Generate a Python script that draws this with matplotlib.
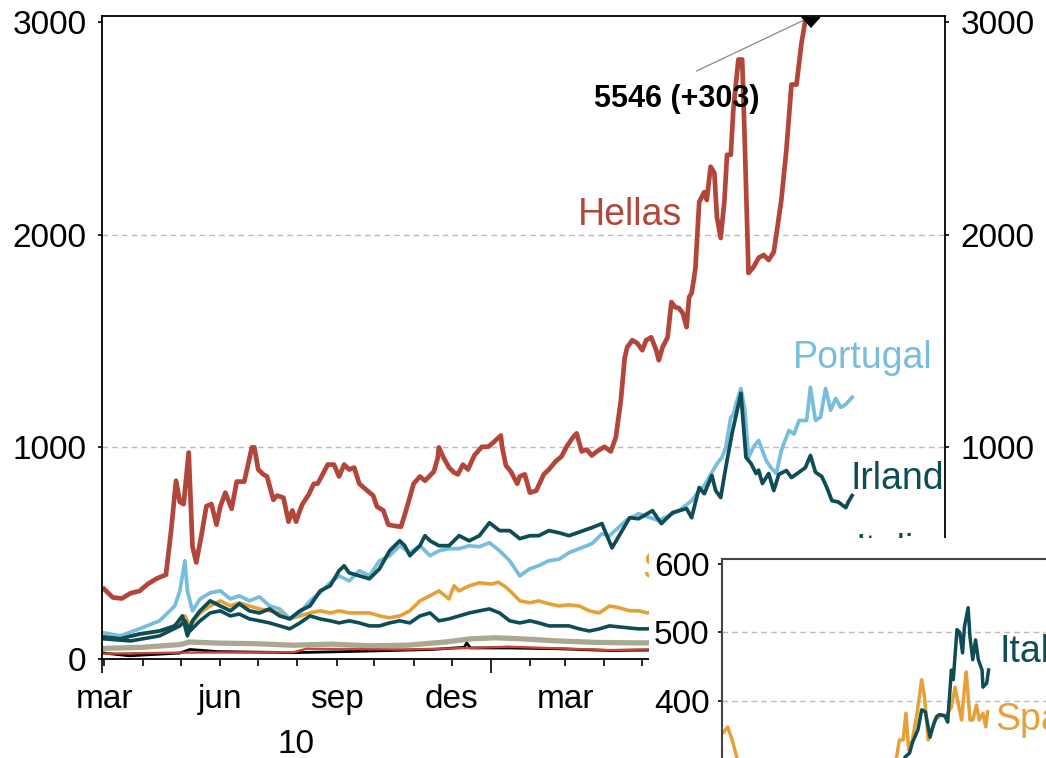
import matplotlib
matplotlib.use('Agg')
import matplotlib.pyplot as plt
import matplotlib.dates as mdates
from matplotlib.patches import Rectangle
from matplotlib.ticker import FixedLocator, FuncFormatter, NullFormatter, MultipleLocator
import pandas as pd

plt.rcParams['font.family'] = ['Liberation Sans', 'DejaVu Sans']

# 5-year CDS premiums (basis points); days counted from 1 March 2010
start = pd.Timestamp('2010-03-01')

hellas = [(0, 330), (7, 290), (14, 285), (21, 310), (28, 320), (35, 355), (42, 380), (49, 397),
          (53, 600), (57, 840), (60, 740), (63, 730), (67, 973), (70, 530), (73, 455), (77, 580),
          (81, 720), (85, 730), (89, 633), (92, 718), (96, 784), (101, 708), (105, 836), (111, 836),
          (114, 916), (117, 997), (119, 997), (122, 893), (126, 870), (129, 860), (134, 750),
          (137, 770), (142, 760), (146, 647), (149, 700), (152, 647), (155, 700), (157, 730),
          (162, 775), (166, 826), (169, 826), (173, 870), (177, 916), (182, 916), (186, 860),
          (190, 916), (194, 893), (198, 902), (202, 826), (207, 800), (213, 770), (216, 718),
          (221, 700), (225, 633), (229, 628), (235, 623), (239, 700), (245, 826), (250, 860),
          (254, 840), (261, 883), (264, 945), (265, 997), (269, 945), (273, 902), (277, 879),
          (280, 870), (284, 916), (288, 893), (293, 959), (299, 1000), (304, 1000), (308, 1020),
          (314, 1053), (315, 1000), (318, 912), (322, 883), (327, 826), (329, 860), (333, 870),
          (337, 784), (342, 793), (348, 870), (352, 893), (358, 935), (362, 954), (366, 1000),
          (371, 1044), (374, 1063), (378, 978), (382, 987), (386, 959), (390, 978), (396, 1000),
          (401, 978), (405, 1044), (409, 1219), (412, 1417), (414, 1469), (418, 1502), (422, 1488),
          (426, 1455), (429, 1502), (433, 1516), (437, 1455), (439, 1408), (442, 1469), (446, 1516),
          (449, 1682), (452, 1658), (455, 1653), (458, 1630), (461, 1564), (463, 1705), (465, 1724),
          (467, 1800), (468, 1842), (471, 2154), (475, 2200), (477, 2163), (480, 2320), (483, 2290),
          (485, 2083), (488, 1984), (491, 2163), (493, 2376), (496, 2376), (498, 2590), (502, 2825),
          (505, 2825), (507, 2447), (510, 1819), (514, 1847), (518, 1890), (522, 1904), (526, 1880),
          (530, 1918), (532, 1998), (536, 2163), (540, 2400), (544, 2707), (548, 2707), (552, 2905),
          (555, 3010), (559, 3300), (566, 3900), (574, 4300), (581, 4900), (588, 5243), (593, 5546)]

portugal = [(0, 123), (13, 109), (28, 142), (44, 180), (56, 250), (60, 321), (64, 463), (66, 321),
            (70, 227), (76, 283), (84, 312), (92, 321), (100, 283), (107, 298), (115, 274), (123, 293),
            (131, 250), (139, 236), (147, 189), (155, 217), (163, 274), (171, 312), (179, 359),
            (186, 392), (194, 368), (202, 416), (210, 392), (218, 463), (226, 487), (234, 534),
            (242, 501), (250, 534), (258, 487), (265, 510), (273, 520), (281, 520), (289, 534),
            (297, 529), (305, 548), (313, 510), (321, 463), (329, 392), (337, 425), (344, 440),
            (352, 463), (360, 470), (368, 501), (376, 520), (386, 543), (394, 590), (400, 581),
            (413, 652), (423, 685), (439, 652), (447, 676), (455, 699), (465, 746), (471, 794),
            (475, 817), (481, 879), (485, 920), (489, 950), (492, 997), (496, 1139), (498, 1150),
            (500, 1200), (504, 1275), (507, 1180), (510, 950), (514, 1000), (518, 1030), (524, 935),
            (528, 900), (532, 874), (536, 983), (542, 1077), (546, 1060), (550, 1124), (556, 1124),
            (559, 1280), (563, 1124), (567, 1140), (571, 1275), (575, 1172), (579, 1228), (583, 1186),
            (587, 1200), (592, 1233)]

irland = [(0, 104), (13, 95), (28, 118), (44, 132), (56, 156), (62, 203), (66, 109), (70, 180),
          (76, 227), (84, 274), (92, 250), (100, 227), (107, 260), (115, 227), (123, 217), (131, 236),
          (139, 203), (147, 189), (155, 227), (163, 250), (171, 321), (179, 345), (186, 416),
          (190, 439), (194, 406), (202, 392), (210, 378), (218, 425), (226, 510), (234, 557),
          (238, 534), (242, 487), (250, 534), (254, 581), (258, 557), (265, 534), (273, 534),
          (281, 581), (289, 557), (297, 581), (305, 642), (313, 605), (321, 605), (329, 567),
          (337, 581), (344, 581), (352, 605), (360, 595), (368, 581), (386, 619), (394, 638),
          (402, 524), (416, 666), (423, 661), (434, 699), (441, 638), (450, 690), (461, 709),
          (465, 666), (471, 808), (475, 779), (481, 865), (484, 794), (488, 761), (492, 902),
          (497, 1063), (504, 1252), (508, 950), (512, 921), (516, 874), (518, 890), (521, 827),
          (526, 874), (530, 794), (534, 870), (540, 888), (544, 855), (550, 880), (555, 902),
          (559, 959), (563, 880), (568, 860), (572, 808), (576, 746), (581, 740), (587, 713),
          (589, 740), (592, 770)]

spania = [(0, 99), (21, 109), (44, 132), (56, 156), (64, 203), (68, 156), (76, 217), (84, 250),
          (92, 274), (100, 250), (107, 265), (115, 250), (123, 236), (131, 227), (139, 217),
          (147, 189), (155, 203), (163, 217), (171, 227), (179, 217), (186, 227), (194, 217),
          (202, 217), (210, 217), (218, 203), (226, 194), (234, 203), (242, 227), (250, 274),
          (258, 298), (265, 321), (273, 283), (277, 345), (281, 321), (289, 345), (297, 359),
          (305, 354), (307, 353), (312, 362), (317, 343), (322, 317), (329, 274), (337, 265),
          (344, 274), (352, 260), (360, 250), (368, 255), (376, 250), (384, 227), (392, 217),
          (400, 250), (408, 241), (416, 227), (423, 227), (430, 217), (450, 260), (470, 275),
          (485, 290), (494, 318), (497, 343), (501, 343), (504, 382), (507, 328), (511, 343),
          (516, 382), (521, 431), (524, 406), (528, 343), (532, 358), (535, 372), (538, 375),
          (543, 380), (546, 378), (549, 382), (553, 391), (557, 420), (560, 398), (564, 372),
          (567, 418), (569, 442), (573, 372), (576, 372), (580, 394), (583, 372), (587, 382),
          (590, 362), (592, 384)]

italia = [(0, 95), (21, 85), (44, 109), (60, 156), (64, 180), (68, 132), (76, 180), (84, 217),
          (92, 227), (100, 203), (107, 212), (115, 189), (123, 180), (131, 170), (139, 156),
          (147, 142), (155, 170), (163, 203), (171, 189), (179, 180), (186, 170), (194, 180),
          (202, 170), (210, 156), (218, 156), (226, 170), (234, 180), (242, 170), (250, 203),
          (258, 217), (265, 180), (273, 189), (281, 203), (289, 217), (297, 227), (305, 236),
          (313, 217), (321, 180), (329, 170), (337, 180), (344, 170), (352, 156), (360, 156),
          (368, 156), (376, 142), (384, 132), (392, 142), (400, 156), (408, 151), (416, 146),
          (423, 142), (430, 142), (455, 160), (475, 175), (490, 230), (498, 290), (503, 318),
          (508, 324), (511, 339), (517, 358), (521, 387), (525, 384), (530, 347), (533, 362),
          (537, 377), (540, 380), (546, 378), (549, 369), (553, 445), (555, 431), (559, 504),
          (562, 500), (565, 470), (567, 508), (571, 536), (573, 493), (576, 460), (579, 489),
          (582, 460), (586, 445), (587, 420), (591, 426), (593, 445)]

frankrike = [(0, 50), (30, 55), (60, 68), (68, 80), (90, 75), (120, 72), (150, 65), (180, 70),
             (210, 62), (240, 65), (270, 80), (290, 95), (310, 100), (330, 95), (360, 85), (390, 78),
             (420, 76), (430, 76), (470, 85), (520, 105), (560, 115), (593, 120)]
tyskland = [(0, 28), (20, 15), (60, 28), (68, 45), (90, 35), (150, 30), (200, 36), (260, 45),
            (285, 55), (287, 75), (290, 52), (320, 52), (360, 48), (400, 40), (430, 42), (500, 50),
            (593, 60)]
uk = [(0, 25), (60, 30), (150, 32), (160, 48), (240, 45), (290, 52), (320, 58), (360, 50),
      (400, 42), (430, 45), (500, 50), (593, 60)]

hellas_last = 5546
hellas_change = 303

month_names = {3: 'mar', 6: 'jun', 9: 'sep', 12: 'des'}
year_labels = ['10', '11']
main_grid = [1000, 2000]
inset_grid = [100, 200, 300, 400, 500]

RED = '#B3463A'
BLUE = '#78BEDC'
TEAL = '#0E4D55'
ORANGE = '#E5A037'
GREY = '#A9A992'


def series(pairs):
    days, vals = zip(*pairs)
    return [start + pd.Timedelta(days=d) for d in days], list(vals)


def day(d):
    return start + pd.Timedelta(days=d)


fig = plt.figure(figsize=(10.46, 7.58), dpi=100)
ax = fig.add_axes([102 / 1046, 99 / 758, 843 / 1046, 643 / 758])

ax.plot(*series(frankrike), color=GREY, lw=3.8)
ax.plot(*series(tyskland), color='black', lw=2.0)
ax.plot(*series(uk), color='#C8453A', lw=1.7)
ax.plot(*series(spania), color=ORANGE, lw=2.6)
ax.plot(*series(italia), color=TEAL, lw=2.6)
ax.plot(*series(portugal), color=BLUE, lw=2.7)
ax.plot(*series(irland), color=TEAL, lw=2.7)
ax.plot(*series(hellas), color=RED, lw=3.4)

for g in main_grid:
    ax.axhline(g, color='#BBBBBB', lw=1.0, ls=(0, (4, 3)), zorder=0.5)

x_left = start - pd.Timedelta(days=1.6)
x_right = start + pd.Timedelta(days=665.5)
ax.set_xlim(x_left, x_right)
ax.set_ylim(0, 3030)

# series labels
lab = dict(fontsize=27, va='baseline', ha='left')
ax.text(day(375), 2044, 'Hellas', color=RED, **lab)
ax.text(day(545), 1370, 'Portugal', color=BLUE, **lab)
ax.text(day(591), 803, 'Irland', color=TEAL, **lab)
ax.text(day(595), 463, 'Italia', color=TEAL, **lab)
ax.text(day(426), 378, 'Spania', color=ORANGE, **lab)

# end value of Hellas, off the chart
ax.plot([day(469), day(554)], [2771, 3011], color='#888888', lw=0.9)
ax.plot(day(559), 3000, marker=[(-1, 0.55), (1, 0.55), (0, -0.55)], color='black',
        markersize=13, clip_on=False, zorder=6)
ax.text(day(388), 2601, f'{hellas_last} ({hellas_change:+d})', fontsize=22,
        fontweight='bold', va='baseline', ha='left')

# axes styling
for s in ax.spines.values():
    s.set_linewidth(1.3)
ax.yaxis.set_major_locator(MultipleLocator(1000))
ax.tick_params(axis='y', which='both', direction='out', length=3, width=1.2,
               labelsize=24, pad=8, right=True, labelright=True)

jan11 = pd.Timestamp('2011-01-01')
ax.xaxis.set_major_locator(FixedLocator(mdates.date2num([x_left, jan11])))
ax.xaxis.set_major_formatter(NullFormatter())
ax.xaxis.set_minor_locator(mdates.MonthLocator())
ax.xaxis.set_minor_formatter(FuncFormatter(
    lambda x, pos: month_names.get(mdates.num2date(x).month, '')))
ax.tick_params(axis='x', which='minor', direction='out', length=5, width=1.2,
               labelsize=24, pad=13)
ax.tick_params(axis='x', which='major', direction='out', length=10, width=1.2)

year_mid = [x_left + (jan11 - x_left) / 2, jan11 + (x_right - jan11) / 2]
for ylab, xm in zip(year_labels, year_mid):
    ax.text(xm, -0.146, ylab, transform=ax.get_xaxis_transform(), fontsize=24,
            ha='center', va='baseline')

# white box behind the inset
fig.add_artist(Rectangle((649 / 1046, 0), 1 - 649 / 1046, 220 / 758,
                         transform=fig.transFigure, facecolor='white',
                         edgecolor='none', zorder=2))

# inset: Italia and Spania from January 2011
ins = fig.add_axes([722 / 1046, -0.2863, 339 / 1046, 0.5488], zorder=3)
ins.set_facecolor('white')
ins.plot(*series(spania), color=ORANGE, lw=2.5)
ins.plot(*series(italia), color=TEAL, lw=2.5)
for g in inset_grid:
    ins.axhline(g, color='#BBBBBB', lw=1.0, ls=(0, (4, 3)), zorder=0.5)
ins.set_xlim(day(306), day(671))
ins.set_ylim(0, 607)
ins.set_xticks([])
ins.yaxis.set_major_locator(MultipleLocator(100))
ins.tick_params(axis='y', direction='out', length=3, width=1.2, labelsize=24, pad=6)
for s in ins.spines.values():
    s.set_linewidth(1.5)
    s.set_color('#444444')
ins.text(day(605), 457, 'Italia', color=TEAL, **lab)
ins.text(day(600), 358, 'Spania', color=ORANGE, **lab)

fig.savefig('out.png', dpi=100)
